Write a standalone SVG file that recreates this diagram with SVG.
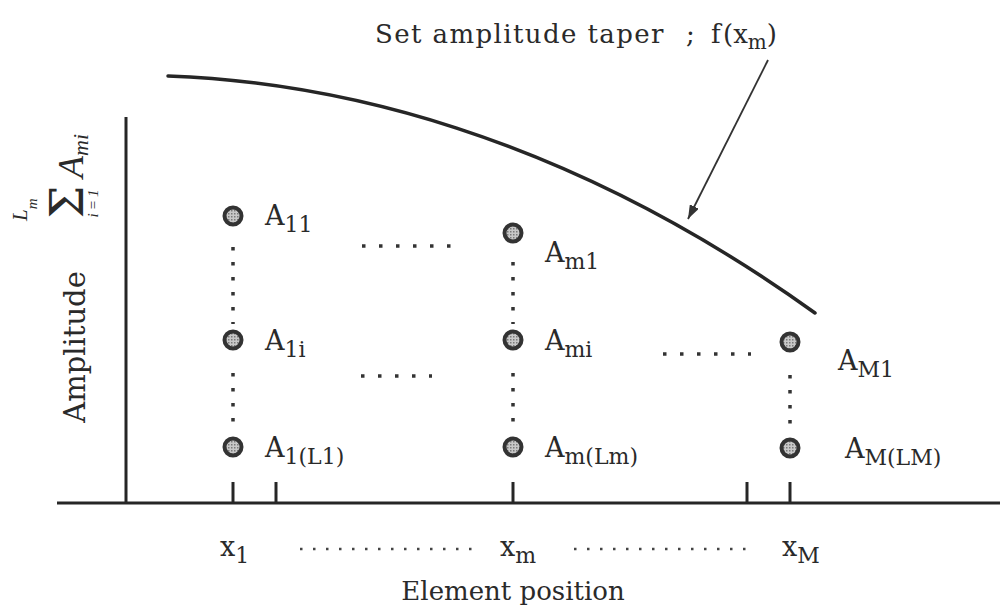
<svg xmlns="http://www.w3.org/2000/svg" width="1000" height="614" viewBox="0 0 1000 614">
<style>
  .t { font-family: "DejaVu Serif", "Liberation Serif", serif; fill: #2a2a2a; }
  .lbl { font-size: 27px; }
  .sub { font-size: 22px; }
  .it { font-family: "Liberation Serif", "Times New Roman", serif; font-style: italic; fill: #2a2a2a; }
  .axis { stroke: #262626; stroke-width: 3; fill: none; }
  .curve { stroke: #262626; stroke-width: 3.5; fill: none; stroke-linecap: round; }
  .dotv { stroke: #333; stroke-width: 3.5; stroke-dasharray: 3.5 11.5; fill: none; }
  .doth { stroke: #333; stroke-width: 3.5; stroke-dasharray: 3.5 13.5; fill: none; }
  .dotb { stroke: #444; stroke-width: 2.5; stroke-dasharray: 2.5 10.5; fill: none; }
  .el { fill: url(#dots); stroke: #333; stroke-width: 4; }
</style>
<defs>
  <pattern id="dots" width="3" height="3" patternUnits="userSpaceOnUse">
    <rect width="3" height="3" fill="#c8c8c8"/>
    <rect width="1.5" height="1.5" fill="#7a7a7a"/>
  </pattern>
  <marker id="ah" viewBox="0 0 14 10" refX="14" refY="5" markerWidth="14" markerHeight="10" markerUnits="userSpaceOnUse" orient="auto">
    <path d="M0,0 L14,5 L0,10 Z" fill="#333"/>
  </marker>
</defs>
<rect width="1000" height="614" fill="#ffffff"/>

<g id="axes">
  <line class="axis" x1="126" y1="117" x2="126" y2="503"/>
  <line class="axis" x1="57" y1="503" x2="1000" y2="503"/>
  <line class="axis" x1="233" y1="482" x2="233" y2="503"/>
  <line class="axis" x1="276" y1="482" x2="276" y2="503"/>
  <line class="axis" x1="513" y1="482" x2="513" y2="503"/>
  <line class="axis" x1="747" y1="482" x2="747" y2="503"/>
  <line class="axis" x1="790" y1="482" x2="790" y2="503"/>
</g>

<g id="axis-labels">
  <text class="t" font-size="29" transform="translate(85,347) rotate(-90)" text-anchor="middle">Amplitude</text>
  <g transform="translate(85,200) rotate(-90)">
    <text class="it" font-size="21" x="-21" y="-58">L<tspan font-size="15" dy="10">m</tspan></text>
    <text class="t" font-size="46" x="-2" y="-2" text-anchor="middle">Σ</text>
    <text class="it" font-size="15" x="-2" y="13" text-anchor="middle" letter-spacing="3">i=1</text>
    <text class="it" font-size="36" x="22" y="-2">A<tspan font-size="22" dy="5">mi</tspan></text>
  </g>
  <text class="t lbl" x="220" y="556">x<tspan class="sub" dy="7">1</tspan></text>
  <text class="t lbl" x="500" y="556">x<tspan class="sub" dy="7">m</tspan></text>
  <text class="t lbl" x="782" y="556">x<tspan class="sub" dy="7">M</tspan></text>
  <text class="t" font-size="26" x="513" y="600" text-anchor="middle">Element position</text>
</g>

<g id="taper">
  <path class="curve" d="M168,76 C330,82 560,130 815,313"/>
  <text class="t" font-size="26" y="43"><tspan x="375" letter-spacing="1.4">Set amplitude taper</tspan><tspan x="686">;</tspan><tspan x="711">f</tspan><tspan x="723">(x</tspan><tspan font-size="20" dy="6">m</tspan><tspan dy="-6">)</tspan></text>
</g>

<g id="connectors">
  <line x1="768" y1="60" x2="688" y2="219" stroke="#333" stroke-width="1.8" marker-end="url(#ah)"/>
  <line class="dotv" x1="233" y1="247" x2="233" y2="324"/>
  <line class="dotv" x1="233" y1="373" x2="233" y2="422"/>
  <line class="dotv" x1="513" y1="262" x2="513" y2="324"/>
  <line class="dotv" x1="513" y1="373" x2="513" y2="422"/>
  <line class="dotv" x1="790" y1="375" x2="790" y2="424"/>
  <line class="doth" x1="362" y1="246" x2="452" y2="246"/>
  <line class="doth" x1="361" y1="376" x2="432" y2="376"/>
  <line class="doth" x1="663" y1="354" x2="751" y2="354"/>
  <line class="dotb" x1="300" y1="549" x2="472" y2="549"/>
  <line class="dotb" x1="574" y1="549" x2="754" y2="549"/>
</g>

<g id="A11"><circle class="el" cx="233" cy="216" r="8.5"/><text class="t lbl" x="265" y="225">A<tspan class="sub" dy="7">11</tspan></text></g>
<g id="A1i"><circle class="el" cx="233" cy="340" r="8.5"/><text class="t lbl" x="265" y="350">A<tspan class="sub" dy="7">1i</tspan></text></g>
<g id="A1L1"><circle class="el" cx="233" cy="447" r="8.5"/><text class="t lbl" x="265" y="457">A<tspan class="sub" dy="7">1(L1)</tspan></text></g>
<g id="Am1"><circle class="el" cx="513" cy="233" r="8.5"/><text class="t lbl" x="545" y="262">A<tspan class="sub" dy="7">m1</tspan></text></g>
<g id="Ami"><circle class="el" cx="513" cy="340" r="8.5"/><text class="t lbl" x="545" y="350">A<tspan class="sub" dy="7">mi</tspan></text></g>
<g id="AmLm"><circle class="el" cx="513" cy="447" r="8.5"/><text class="t lbl" x="545" y="457">A<tspan class="sub" dy="7">m(Lm)</tspan></text></g>
<g id="AM1"><circle class="el" cx="790" cy="342" r="8.5"/><text class="t lbl" x="838" y="370">A<tspan class="sub" dy="7">M1</tspan></text></g>
<g id="AMLM"><circle class="el" cx="790" cy="448" r="8.5"/><text class="t lbl" x="845" y="458">A<tspan class="sub" dy="7">M(LM)</tspan></text></g>
</svg>
